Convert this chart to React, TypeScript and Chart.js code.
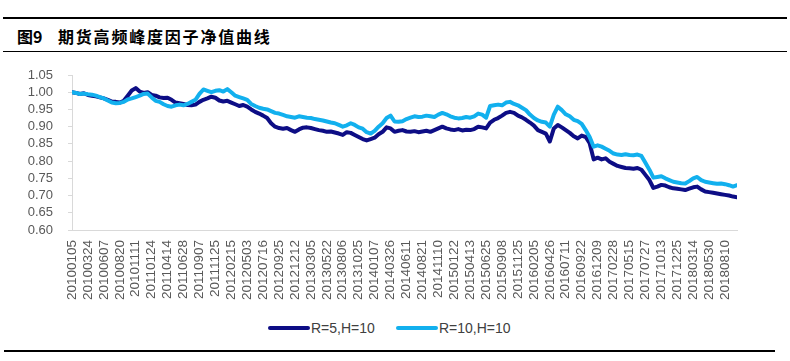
import React, { useEffect, useRef } from "react";
import { Chart, registerables } from "chart.js";

Chart.register(...registerables);

const title = "期货高频峰度因子净值曲线";
const figureNo = "图9";
const seriesNames = ["R=5,H=10", "R=10,H=10"];
const seriesColors = ["#0d0d85", "#12b0ee"];

const tickLabels = [
  "20100105", "20100324", "20100607", "20100820", "20101111", "20110124", "20110414",
  "20110628", "20110907", "20111125", "20120215", "20120503", "20120716", "20120925",
  "20121212", "20130305", "20130522", "20130806", "20131025", "20140107", "20140326",
  "20140611", "20140821", "20141110", "20150122", "20150413", "20150625", "20150908",
  "20151125", "20160205", "20160426", "20160711", "20160922", "20161209", "20170228",
  "20170515", "20170727", "20171013", "20171225", "20180314", "20180530", "20180810",
];
const pointsPerLabel = 4;

const r5h10 = [
  1.000, 0.998, 0.995, 0.997, 0.992, 0.990, 0.988, 0.985, 0.982, 0.978,
  0.973, 0.972, 0.970, 0.975, 0.990, 1.005, 1.012, 1.002, 0.998, 1.000,
  0.992, 0.990, 0.985, 0.983, 0.984, 0.978, 0.970, 0.968, 0.966, 0.963,
  0.962, 0.964, 0.972, 0.978, 0.982, 0.987, 0.984, 0.976, 0.973, 0.975,
  0.970, 0.965, 0.960, 0.963, 0.958, 0.950, 0.943, 0.938, 0.932, 0.925,
  0.910, 0.900, 0.896, 0.894, 0.896, 0.890, 0.885, 0.892, 0.897, 0.898,
  0.896, 0.893, 0.890, 0.888, 0.885, 0.886, 0.883, 0.880, 0.876, 0.884,
  0.882, 0.876, 0.870, 0.864, 0.860, 0.864, 0.868, 0.878, 0.885, 0.898,
  0.895, 0.885, 0.888, 0.890, 0.886, 0.885, 0.887, 0.884, 0.886, 0.888,
  0.885, 0.890, 0.895, 0.900, 0.895, 0.892, 0.890, 0.893, 0.889, 0.891,
  0.890, 0.893, 0.900, 0.898, 0.895, 0.912, 0.920, 0.925, 0.932, 0.940,
  0.943, 0.940, 0.932, 0.927, 0.920, 0.912, 0.903, 0.890, 0.885, 0.880,
  0.857, 0.895, 0.905, 0.898, 0.890, 0.882, 0.872, 0.866, 0.874, 0.870,
  0.852, 0.805, 0.810, 0.805, 0.808, 0.798, 0.792, 0.786, 0.783, 0.780,
  0.779, 0.778, 0.780, 0.775, 0.760, 0.745, 0.722, 0.726, 0.731, 0.729,
  0.724, 0.721, 0.720, 0.718, 0.716, 0.720, 0.724, 0.726, 0.718, 0.712,
  0.710, 0.708, 0.706, 0.704, 0.702, 0.700, 0.697, 0.695,
];

const r10h10 = [
  1.000, 0.998, 0.995, 0.996, 0.994, 0.993, 0.990, 0.986, 0.982, 0.976,
  0.970, 0.968, 0.969, 0.972, 0.979, 0.982, 0.986, 0.990, 0.995, 0.996,
  0.985, 0.975, 0.972, 0.965, 0.960, 0.958, 0.962, 0.964, 0.962, 0.966,
  0.972, 0.978, 0.995, 1.008, 1.004, 1.000, 1.004, 1.006, 1.002, 1.009,
  1.000, 0.990, 0.986, 0.982, 0.978, 0.966, 0.960, 0.955, 0.952, 0.950,
  0.945, 0.940, 0.938, 0.934, 0.930, 0.928, 0.926, 0.930, 0.928, 0.926,
  0.925, 0.922, 0.920, 0.918, 0.915, 0.912, 0.910, 0.905, 0.900, 0.904,
  0.910, 0.905, 0.898, 0.894, 0.884, 0.880, 0.888, 0.900, 0.910, 0.925,
  0.932, 0.915, 0.914, 0.916, 0.922, 0.926, 0.930, 0.928, 0.929, 0.932,
  0.930, 0.928, 0.935, 0.940, 0.936, 0.930, 0.926, 0.924, 0.925, 0.928,
  0.926, 0.930, 0.938, 0.935, 0.926, 0.960, 0.962, 0.964, 0.962, 0.970,
  0.972, 0.966, 0.962, 0.955, 0.948, 0.935, 0.925, 0.918, 0.914, 0.912,
  0.900, 0.935, 0.958, 0.948, 0.936, 0.930, 0.920, 0.916, 0.908, 0.890,
  0.870, 0.842, 0.846, 0.842, 0.836, 0.830, 0.822, 0.819, 0.818, 0.820,
  0.818, 0.817, 0.819, 0.815, 0.795, 0.775, 0.752, 0.754, 0.756, 0.750,
  0.745, 0.740, 0.738, 0.736, 0.735, 0.742, 0.750, 0.754, 0.745, 0.740,
  0.738, 0.736, 0.734, 0.735, 0.733, 0.730, 0.726, 0.730,
];

const yMin = 0.6;
const yMax = 1.05;
const yStep = 0.05;

const axisFont = "'Liberation Sans', Arial, sans-serif";

export default function App() {
  const canvasRef = useRef<HTMLCanvasElement | null>(null);

  useEffect(() => {
    if (!canvasRef.current) return;
    const chart = new Chart(canvasRef.current, {
      type: "line",
      data: {
        datasets: [
          {
            label: seriesNames[0],
            data: r5h10.map((y, i) => ({ x: i, y })),
            borderColor: seriesColors[0],
            backgroundColor: seriesColors[0],
            borderWidth: 4,
            pointRadius: 0,
            tension: 0,
            borderJoinStyle: "round",
            borderCapStyle: "round",
            order: 1,
          },
          {
            label: seriesNames[1],
            data: r10h10.map((y, i) => ({ x: i, y })),
            borderColor: seriesColors[1],
            backgroundColor: seriesColors[1],
            borderWidth: 4,
            pointRadius: 0,
            tension: 0,
            borderJoinStyle: "round",
            borderCapStyle: "round",
            order: 0,
          },
        ],
      },
      options: {
        animation: false,
        responsive: false,
        events: [],
        layout: { padding: { left: 0, top: 75, right: 53, bottom: 0 } },
        plugins: {
          legend: { display: false },
          tooltip: { enabled: false },
          title: { display: false },
        },
        scales: {
          x: {
            type: "linear",
            min: 0,
            max: r5h10.length - 1,
            grid: { display: true, drawOnChartArea: false, drawTicks: false, tickLength: 0, color: "#d9d9d9" },
            border: { display: true, color: "#d9d9d9", width: 1 },
            ticks: {
              stepSize: pointsPerLabel,
              autoSkip: false,
              includeBounds: false,
              minRotation: 90,
              maxRotation: 90,
              padding: 10,
              color: "#595959",
              font: { family: axisFont, size: 13.5 },
              callback: (v: any) => {
                const k = Number(v) / pointsPerLabel;
                return Number.isInteger(k) && tickLabels[k] ? tickLabels[k] : "";
              },
            },
            afterFit: (scale: any) => {
              scale.height = 80;
            },
          },
          y: {
            min: yMin,
            max: yMax,
            grid: { display: true, drawOnChartArea: false, drawTicks: true, tickLength: 4, color: "#d9d9d9" },
            border: { display: true, color: "#d9d9d9", width: 1 },
            ticks: {
              stepSize: yStep,
              autoSkip: false,
              padding: 15,
              color: "#595959",
              font: { family: axisFont, size: 13 },
              callback: (v: any) => Number(v).toFixed(2),
            },
            afterFit: (scale: any) => {
              scale.width = 72;
            },
          },
        },
      },
    });
    return () => chart.destroy();
  }, []);

  return (
    <div
      style={{
        position: "fixed",
        left: 0,
        top: 0,
        width: 790,
        height: 361,
        background: "#fff",
        overflow: "hidden",
      }}
    >
      <div style={{ position: "absolute", left: 3, top: 17, width: 784, height: 1.5, background: "#000" }} />
      <div
        style={{
          position: "absolute",
          left: 17,
          top: 25,
          fontFamily: "'Noto Sans CJK SC', sans-serif",
          fontWeight: 700,
          fontSize: 16,
          lineHeight: "22px",
          color: "#000",
          whiteSpace: "nowrap",
        }}
      >
        {figureNo}
      </div>
      <div
        style={{
          position: "absolute",
          left: 58,
          top: 25,
          fontFamily: "'Noto Sans CJK SC', sans-serif",
          fontWeight: 700,
          fontSize: 16,
          letterSpacing: 1.8,
          lineHeight: "22px",
          color: "#000",
          whiteSpace: "nowrap",
        }}
      >
        {title}
      </div>
      <div style={{ position: "absolute", left: 3, top: 51, width: 784, height: 1, background: "#000" }} />
      <canvas
        ref={canvasRef}
        width={790}
        height={310}
        style={{ position: "absolute", left: 0, top: 0, width: 790, height: 310 }}
      />
      {seriesNames.map((name, i) => (
        <div
          key={name}
          style={{
            position: "absolute",
            left: i === 0 ? 268 : 396,
            top: 318,
            height: 20,
            display: "flex",
            alignItems: "center",
            whiteSpace: "nowrap",
          }}
        >
          <div style={{ width: 42, height: 4, borderRadius: 2, background: seriesColors[i] }} />
          <span
            style={{
              marginLeft: 1,
              fontFamily: axisFont,
              fontSize: 14,
              color: "#404040",
            }}
          >
            {name}
          </span>
        </div>
      ))}
      <div style={{ position: "absolute", left: 4, top: 350, width: 771, height: 1.5, background: "#000" }} />
    </div>
  );
}
